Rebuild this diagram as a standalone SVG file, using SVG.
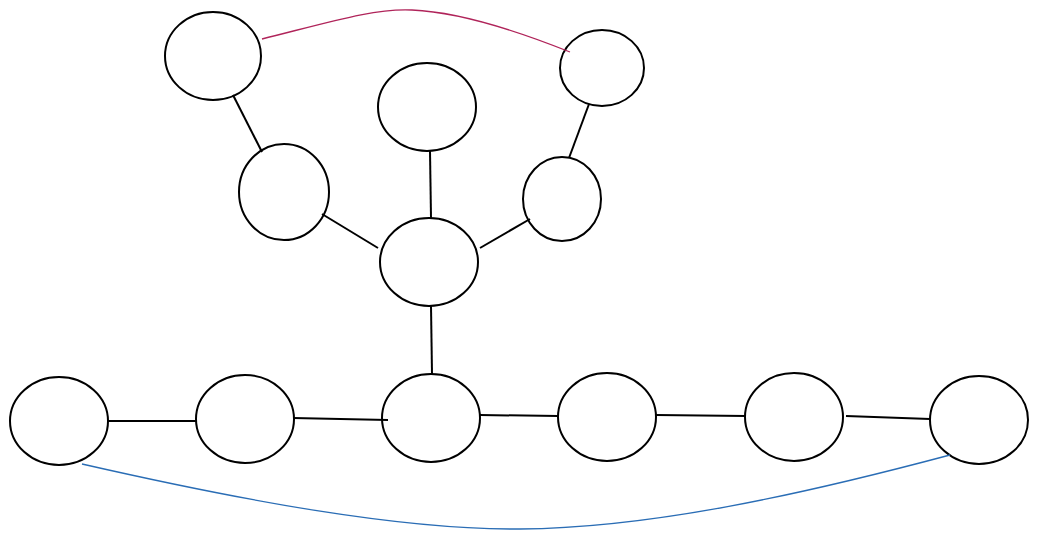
<svg xmlns="http://www.w3.org/2000/svg" width="1039" height="540" viewBox="0 0 1039 540">
<style>
.n{fill:#fff;stroke:#000;stroke-width:2}
.e{fill:none;stroke:#000;stroke-width:2}
</style>
<rect width="1039" height="540" fill="#fff"/>
<g id="n1"><ellipse class="n" cx="213" cy="56" rx="48" ry="44"/></g>
<g id="n2"><ellipse class="n" cx="427" cy="107" rx="49" ry="44"/></g>
<g id="n3"><ellipse class="n" cx="602" cy="68" rx="42" ry="38"/></g>
<g id="n4"><ellipse class="n" cx="284" cy="192" rx="45" ry="48"/></g>
<g id="n5"><ellipse class="n" cx="562" cy="199" rx="39" ry="42"/></g>
<g id="n6"><ellipse class="n" cx="429" cy="262" rx="49" ry="44"/></g>
<g id="n7"><ellipse class="n" cx="59" cy="421" rx="49" ry="44"/></g>
<g id="n8"><ellipse class="n" cx="245" cy="419" rx="49" ry="44"/></g>
<g id="n9"><ellipse class="n" cx="431" cy="418" rx="49" ry="44"/></g>
<g id="n10"><ellipse class="n" cx="607" cy="417" rx="49" ry="44"/></g>
<g id="n11"><ellipse class="n" cx="794" cy="417" rx="49" ry="44"/></g>
<g id="n12"><ellipse class="n" cx="979" cy="420" rx="49" ry="44"/></g>
<g id="connectors">
<path class="e" d="M233,95 L262,152"/>
<path class="e" d="M322,214 L378,248"/>
<path class="e" d="M430,151 L431,218"/>
<path class="e" d="M480,248 L530,219"/>
<path class="e" d="M589,104 L569,158"/>
<path class="e" d="M431,306 L432,374"/>
<path class="e" d="M108,421 L196,421"/>
<path class="e" d="M293,418 L388,420"/>
<path class="e" d="M480,415 L558,416"/>
<path class="e" d="M656,415 L746,416"/>
<path class="e" d="M846,416 L930,419"/>
<path d="M262,39 C330,22 375,8 412,10 C460,12 520,32 570,52" fill="none" stroke="#b0245a" stroke-width="1.3"/>
<path d="M82,464 C240,500 400,530 520,529 C650,528 800,495 950,455" fill="none" stroke="#2a6db5" stroke-width="1.3"/>
</g>
</svg>
